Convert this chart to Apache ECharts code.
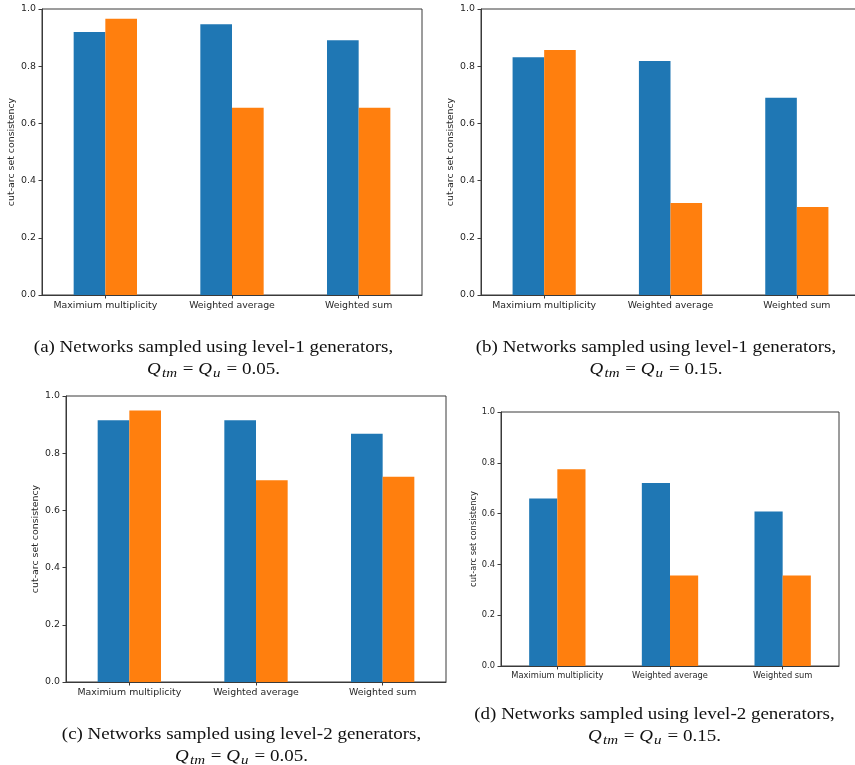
<!DOCTYPE html>
<html>
<head>
<meta charset="utf-8">
<script src="https://cdn.jsdelivr.net/npm/echarts@6/dist/echarts.min.js"></script>
<style>html,body{margin:0;padding:0;background:#fff;overflow:hidden;width:855px;height:765px;}#c{width:880px;height:765px;}</style>
</head>
<body>
<div id="c"></div>
<script>
const categories = ['Maximium multiplicity', 'Weighted average', 'Weighted sum'];
const yTicks = [0.0, 0.2, 0.4, 0.6, 0.8, 1.0];
const yName = 'cut-arc set consistency';

const panelA_blue = [0.920, 0.947, 0.891];
const panelA_orange = [0.966, 0.655, 0.655];
const panelB_blue = [0.831, 0.818, 0.690];
const panelB_orange = [0.857, 0.322, 0.308];
const panelC_blue = [0.915, 0.915, 0.868];
const panelC_orange = [0.949, 0.705, 0.718];
const panelD_blue = [0.659, 0.720, 0.608];
const panelD_orange = [0.775, 0.356, 0.356];

const captionLine1 = [
  '(a) Networks sampled using level-1 generators,',
  '(b) Networks sampled using level-1 generators,',
  '(c) Networks sampled using level-2 generators,',
  '(d) Networks sampled using level-2 generators,'
];
const captionQ = ['0.05.', '0.15.', '0.05.', '0.15.'];

const panels = [
  {blue: panelA_blue, orange: panelA_orange, grid: {left: 42, top: 9, width: 380, height: 286}, fs: 9.4, gap: 25.5},
  {blue: panelB_blue, orange: panelB_orange, grid: {left: 481, top: 9, width: 379, height: 286}, fs: 9.4, gap: 26.3},
  {blue: panelC_blue, orange: panelC_orange, grid: {left: 66, top: 396, width: 380, height: 286}, fs: 9.4, gap: 26},
  {blue: panelD_blue, orange: panelD_orange, grid: {left: 501, top: 412, width: 338, height: 254}, fs: 8.3, gap: 23.2}
];
const captionPos = [
  {x: 213.5, y: 339}, {x: 656, y: 339}, {x: 241.5, y: 726}, {x: 654.5, y: 706}
];

const axisColor = '#3a3a3a';
const textColor = '#262626';
const font = 'DejaVu Sans';
const capFill = '#111';
const capScale = 1.15;

const grids = [], xAxes = [], yAxes = [], series = [], graphics = [];
panels.forEach((p, i) => {
  grids.push(Object.assign({show: true, borderColor: axisColor, borderWidth: 1, backgroundColor: 'transparent', containLabel: false}, p.grid));
  xAxes.push({
    type: 'category', gridIndex: i, data: categories,
    axisLine: {show: true, lineStyle: {color: axisColor, width: 1}},
    axisTick: {show: true, alignWithLabel: true, length: 3.5, lineStyle: {color: axisColor}},
    axisLabel: {color: textColor, fontFamily: font, fontSize: p.fs, margin: 6, interval: 0},
    splitLine: {show: false}
  });
  yAxes.push({
    type: 'value', gridIndex: i, min: 0, max: 1, interval: 0.2,
    name: yName, nameLocation: 'middle', nameRotate: 90, nameGap: p.gap,
    nameTextStyle: {color: textColor, fontFamily: font, fontSize: p.fs},
    axisLine: {show: true, lineStyle: {color: axisColor, width: 1}},
    axisTick: {show: true, length: 3.5, lineStyle: {color: axisColor}},
    axisLabel: {color: textColor, fontFamily: font, fontSize: p.fs, margin: 6,
      formatter: v => yTicks.find(t => Math.abs(t - v) < 1e-9).toFixed(1)},
    splitLine: {show: false}
  });
  series.push({type: 'bar', xAxisIndex: i, yAxisIndex: i, data: p.blue, barWidth: '25%', barGap: '0%',
    itemStyle: {color: '#1f77b4'}, silent: true, animation: false});
  series.push({type: 'bar', xAxisIndex: i, yAxisIndex: i, data: p.orange, barWidth: '25%', barGap: '0%',
    itemStyle: {color: '#ff7f0e'}, silent: true, animation: false});

  const c = captionPos[i];
  graphics.push({
    type: 'text', x: c.x, y: c.y, scaleX: capScale,
    style: {text: captionLine1[i], font: '16.5px "Liberation Serif"', fill: capFill, align: 'center', verticalAlign: 'top'}
  });
  graphics.push({
    type: 'text', x: c.x, y: c.y + 21, scaleX: capScale,
    style: {
      text: '{q|Q}{s|tm}{n| = }{q|Q}{s|u}{n| = ' + captionQ[i] + '}',
      align: 'center', verticalAlign: 'top',
      rich: {
        q: {fontFamily: 'Liberation Serif', fontSize: 16.5, fontStyle: 'italic', fill: capFill, color: capFill, lineHeight: 20, verticalAlign: 'middle'},
        s: {fontFamily: 'Liberation Serif', fontSize: 13, fontStyle: 'italic', fill: capFill, color: capFill, lineHeight: 12, verticalAlign: 'bottom', padding: [0, 1, 0, 1]},
        n: {fontFamily: 'Liberation Serif', fontSize: 16.5, fill: capFill, color: capFill, lineHeight: 20, verticalAlign: 'middle'}
      }
    }
  });
});

const chart = echarts.init(document.getElementById('c'), null, {renderer: 'canvas', width: 880, height: 765});
chart.setOption({
  animation: false,
  backgroundColor: '#fff',
  grid: grids, xAxis: xAxes, yAxis: yAxes, series: series,
  graphic: graphics
});
</script>
</body>
</html>
